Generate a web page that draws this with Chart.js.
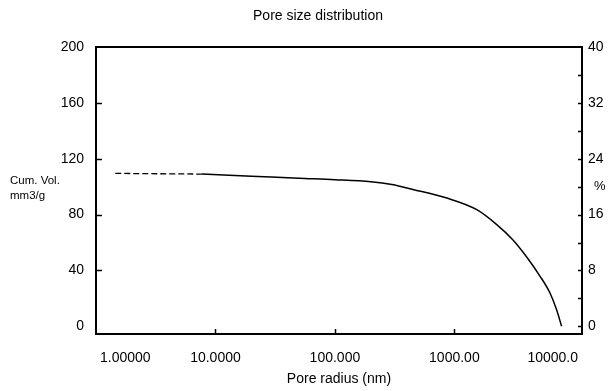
<!DOCTYPE html>
<html><head><meta charset="utf-8">
<script src="https://cdn.jsdelivr.net/npm/chart.js@4/dist/chart.umd.min.js"></script>
<style>html,body{margin:0;padding:0;background:#fff}#wrap{width:612px;height:391px}</style>
</head><body><div id="wrap"><canvas id="c" width="612" height="391"></canvas></div>
<script>
const chartTitle = 'Pore size distribution';
const xTitle = 'Pore radius (nm)';
const yLeftTitle = ['Cum. Vol.', 'mm3/g'];
const yRightTitle = '%';
const xTickValues = [1, 10, 100, 1000, 10000];
const xTickLabels = ['1.00000', '10.0000', '100.000', '1000.00', '10000.0'];
const xMinorTicks = [10, 100, 1000];
const leftTickValues = [0, 40, 80, 120, 160, 200];
const leftMarkValues = [40, 80, 120, 160];
const rightTickValues = [0, 8, 16, 24, 32, 40];
const rightMarkValues = [0, 4, 8, 12, 16, 20, 24, 28, 32, 36];
const dashedRadius = [1.45, 7.7];
const dashedVolume = [109.5, 109];
const solidRadius = [7.7, 20, 50, 100, 200, 300, 450, 850, 1540, 2250, 3080, 4000, 5200, 6300, 7160, 7900];
const solidVolume = [109, 107.5, 106, 105, 103.5, 101.5, 98, 92, 83.5, 73, 62, 50, 36, 24, 12, 0];

const FONT = 'Liberation Sans, Arial, sans-serif';
const toPts = (xs, ys) => xs.map((x, i) => ({x: x, y: ys[i]}));

const decor = {
  id: 'decor',
  afterDraw(chart) {
    const ctx = chart.ctx, a = chart.chartArea;
    const xs = chart.scales.x, yl = chart.scales.y, yr = chart.scales.y2;
    ctx.save();
    ctx.strokeStyle = '#000';
    ctx.lineWidth = 2;
    ctx.strokeRect(a.left, a.top, a.right - a.left, a.bottom - a.top);
    ctx.lineWidth = 1.5;
    ctx.beginPath();
    leftMarkValues.forEach(v => { const p = Math.round(yl.getPixelForValue(v)) + 0.5; ctx.moveTo(a.left, p); ctx.lineTo(a.left + 6, p); });
    rightMarkValues.forEach(v => { const p = Math.round(yr.getPixelForValue(v)) + 0.5; ctx.moveTo(a.right, p); ctx.lineTo(a.right - 4, p); });
    xMinorTicks.forEach(v => { const p = Math.round(xs.getPixelForValue(v)) + 0.5; ctx.moveTo(p, a.bottom); ctx.lineTo(p, a.bottom - 5); });
    ctx.stroke();
    ctx.fillStyle = '#000';
    ctx.font = '14px ' + FONT;
    ctx.textBaseline = 'middle';
    ctx.textAlign = 'left';
    xTickValues.forEach((v, i) => {
      const t = xTickLabels[i];
      const w = ctx.measureText(t).width;
      let l = xs.getPixelForValue(v) - w / 2;
      l = Math.max(l, a.left + 4);
      l = Math.min(l, a.right - 4 - w);
      ctx.fillText(t, l, 358);
    });
    ctx.textAlign = 'center';
    ctx.fillText(xTitle, (a.left + a.right) / 2, 379);
    ctx.fillText(chartTitle, 318, 16);
    ctx.font = '11.5px ' + FONT;
    ctx.textAlign = 'left';
    ctx.fillText(yLeftTitle[0], 10, 181);
    ctx.fillText(yLeftTitle[1], 10, 196);
    ctx.font = '13px ' + FONT;
    ctx.fillText(yRightTitle, 594, 186);
    ctx.restore();
  }
};

new Chart(document.getElementById('c'), {
  type: 'line',
  data: {
    datasets: [
      { data: toPts(dashedRadius, dashedVolume), borderColor: '#000', borderWidth: 1.3, borderDash: [6, 3], pointRadius: 0, yAxisID: 'y' },
      { data: toPts(solidRadius, solidVolume), borderColor: '#000', borderWidth: 1.5, pointRadius: 0, cubicInterpolationMode: 'monotone', yAxisID: 'y' }
    ]
  },
  options: {
    responsive: false,
    animation: false,
    layout: { padding: { top: 47, left: 0, right: 0, bottom: 0 } },
    plugins: { legend: { display: false }, tooltip: { enabled: false }, title: { display: false } },
    scales: {
      x: {
        type: 'logarithmic', min: 1, max: 11700, position: 'bottom',
        ticks: { display: false }, grid: { display: false }, border: { display: false },
        afterFit(s) { s.height = 57; }
      },
      y: {
        type: 'linear', min: -5.5, max: 200, position: 'left',
        afterBuildTicks(s) { s.ticks = leftTickValues.map(v => ({ value: v })); },
        ticks: { color: '#000', font: { family: FONT, size: 14 }, padding: 12 },
        grid: { display: false, drawTicks: false }, border: { display: false },
        afterFit(s) { s.width = 96; }
      },
      y2: {
        type: 'linear', min: -1.1, max: 40, position: 'right',
        afterBuildTicks(s) { s.ticks = rightTickValues.map(v => ({ value: v })); },
        ticks: { color: '#000', font: { family: FONT, size: 14 }, padding: 6 },
        grid: { display: false, drawTicks: false }, border: { display: false },
        afterFit(s) { s.width = 30; }
      }
    }
  },
  plugins: [decor]
});
</script>
</body></html>
